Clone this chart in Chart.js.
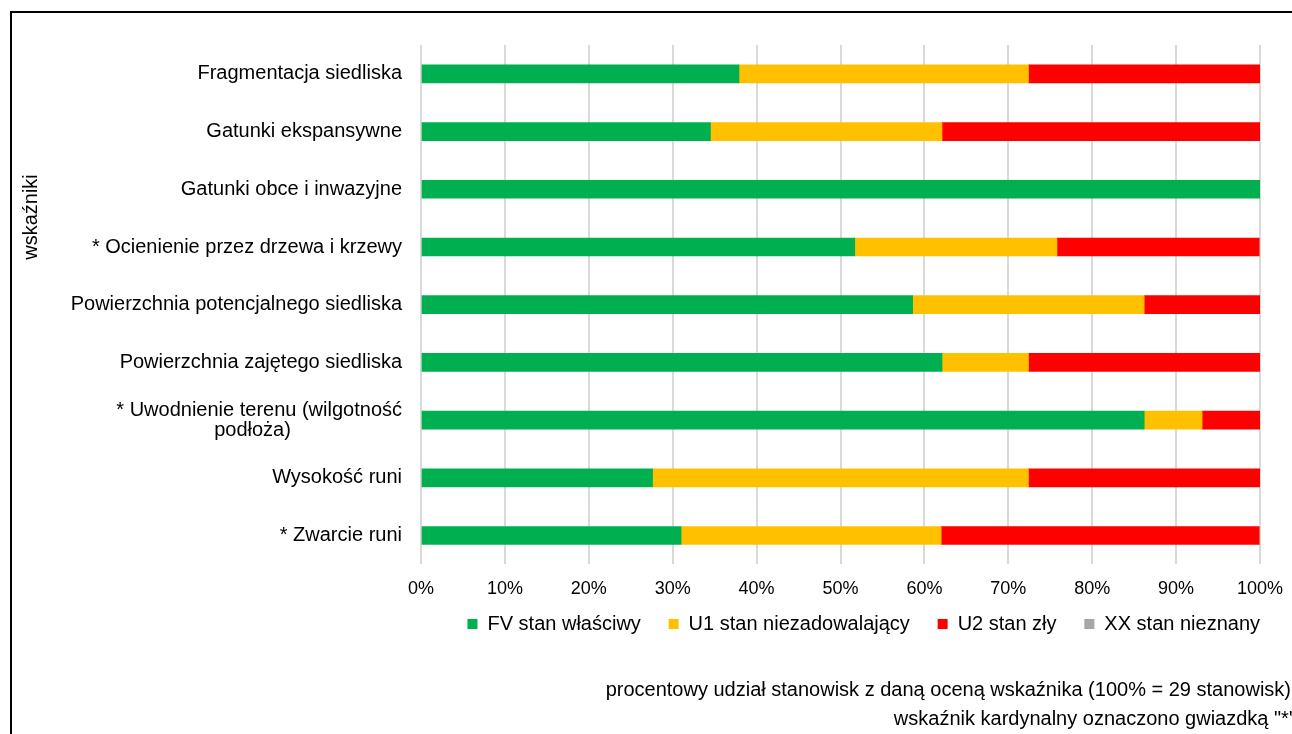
<!DOCTYPE html>
<html>
<head>
<meta charset="utf-8">
<script src="https://cdn.jsdelivr.net/npm/chart.js@4"></script>
<style>
  html, body { margin: 0; padding: 0; background: #fff; }
  #wrap { width: 1292px; height: 734px; }
</style>
</head>
<body>
<div id="wrap"><canvas id="wskazniki"></canvas></div>
<script>
/* dane: procentowy udział stanowisk (100% = 29 stanowisk) */
const kategorie = [
  "Fragmentacja siedliska",
  "Gatunki ekspansywne",
  "Gatunki obce i inwazyjne",
  "* Ocienienie przez drzewa i krzewy",
  "Powierzchnia potencjalnego siedliska",
  "Powierzchnia zajętego siedliska",
  ["* Uwodnienie terenu (wilgotność", "podłoża)" + "\u00a0".repeat(20)],
  "Wysokość runi",
  "* Zwarcie runi",
];
const stanFV = [37.9, 34.5, 100, 51.7, 58.6, 62.1, 86.2, 27.6, 31.0];
const stanU1 = [34.5, 27.6, 0, 24.1, 27.6, 10.3, 6.9, 44.8, 31.0];
const stanU2 = [27.6, 37.9, 0, 24.1, 13.8, 27.6, 6.9, 27.6, 37.9];
const stanXX = [0, 0, 0, 0, 0, 0, 0, 0, 0];
const osX = [0, 10, 20, 30, 40, 50, 60, 70, 80, 90, 100];

const FONT = "'Liberation Sans', Arial, sans-serif";

/* ramka, tytuł osi i podpisy pod wykresem */
const dodatki = {
  id: "dodatki",
  afterDraw(chart) {
    const ctx = chart.ctx;
    ctx.save();
    ctx.strokeStyle = "#000";
    ctx.lineWidth = 2;
    ctx.beginPath();
    ctx.moveTo(11, 740);
    ctx.lineTo(11, 12);
    ctx.lineTo(1300, 12);
    ctx.stroke();

    ctx.fillStyle = "#000";
    ctx.font = "20px " + FONT;
    ctx.translate(31, 217);
    ctx.rotate(-Math.PI / 2);
    ctx.textAlign = "center";
    ctx.textBaseline = "middle";
    ctx.fillText("wskaźniki", 0, 0);
    ctx.restore();

    ctx.save();
    ctx.fillStyle = "#000";
    ctx.font = "20px " + FONT;
    ctx.textAlign = "right";
    ctx.textBaseline = "middle";
    ctx.fillText("procentowy udział stanowisk z daną oceną wskaźnika (100% = 29 stanowisk)", 1291, 690);
    ctx.fillText("wskaźnik kardynalny oznaczono gwiazdką \"*\"", 1296, 719);
    ctx.restore();
  },
};

new Chart(document.getElementById("wskazniki"), {
  type: "bar",
  data: {
    labels: kategorie,
    datasets: [
      { label: "FV stan właściwy", data: stanFV, backgroundColor: "#00b050" },
      { label: "U1 stan niezadowalający", data: stanU1, backgroundColor: "#ffc000" },
      { label: "U2 stan zły", data: stanU2, backgroundColor: "#ff0000" },
      { label: "XX stan nieznany", data: stanXX, backgroundColor: "#a6a6a6" },
    ],
  },
  options: {
    indexAxis: "y",
    responsive: true,
    maintainAspectRatio: false,
    animation: false,
    barThickness: 18,
    layout: { padding: { top: 45, left: 12, right: 32, bottom: 90 } },
    plugins: {
      tooltip: { enabled: false },
      legend: {
        position: "bottom",
        align: "end",
        labels: {
          color: "#000",
          font: { family: FONT, size: 20 },
          boxWidth: 10,
          boxHeight: 10,
          padding: 0,
          generateLabels(chart) {
            const items = Chart.defaults.plugins.legend.labels.generateLabels(chart);
            items.forEach((it, i) => {
              if (i < items.length - 1) it.text += "\u00a0".repeat(5);
            });
            return items;
          },
        },
      },
    },
    scales: {
      x: {
        stacked: true,
        min: 0,
        max: 100,
        afterBuildTicks(axis) {
          axis.ticks = osX.map((v) => ({ value: v }));
        },
        afterFit(axis) {
          axis.paddingLeft = 0;
          axis.paddingRight = 0;
        },
        ticks: {
          color: "#000",
          font: { family: FONT, size: 18 },
          padding: 14,
          maxRotation: 0,
          callback: (v) => v + "%",
        },
        grid: { color: "#d9d9d9", lineWidth: 2, drawTicks: false },
        border: { display: false },
      },
      y: {
        stacked: true,
        afterFit(axis) {
          axis.width = 409;
        },
        ticks: {
          color: "#000",
          font: { family: FONT, size: 20, lineHeight: 1.0 },
          padding: 11,
        },
        grid: { display: false },
        border: { display: false },
      },
    },
  },
  plugins: [dodatki],
});
</script>
</body>
</html>
